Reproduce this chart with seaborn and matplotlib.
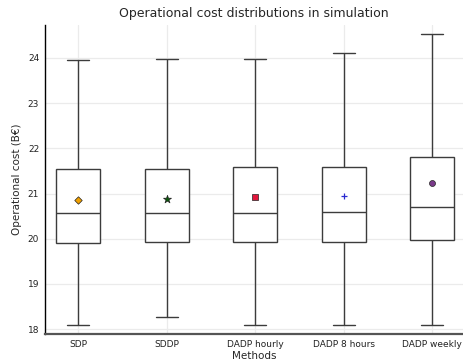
import matplotlib
matplotlib.use("Agg")
import matplotlib.pyplot as plt
import seaborn as sns
import pandas as pd

# Five-number summaries (min, Q1, median, Q3, max) of operational cost, in B€
methods = ["SDP", "SDDP", "DADP hourly", "DADP 8 hours", "DADP weekly"]
sdp = [18.09, 19.90, 20.56, 21.55, 23.96]
sddp = [18.27, 19.93, 20.57, 21.54, 23.97]
dadp_hourly = [18.10, 19.92, 20.57, 21.58, 23.98]
dadp_8h = [18.10, 19.92, 20.58, 21.59, 24.10]
dadp_weekly = [18.08, 19.96, 20.71, 21.80, 24.54]
# Mean cost of each method
means = [20.86, 20.87, 20.92, 20.94, 21.23]

summaries = [sdp, sddp, dadp_hourly, dadp_8h, dadp_weekly]
df = pd.DataFrame(
    [(m, v) for m, s in zip(methods, summaries) for v in s],
    columns=["method", "cost"],
)
df_mean = pd.DataFrame({"method": methods, "mean": means})

sns.set_theme(style="white")
plt.rcParams["font.family"] = ["DejaVu Sans"]

fig = plt.figure(figsize=(4.63, 3.62), dpi=100)
ax = fig.add_axes([0.0965, 0.0773, 0.9035, 0.8537])

sns.boxplot(
    data=df, x="method", y="cost", order=methods,
    whis=(0, 100), width=0.5, color="white", linecolor="#3c3c3c",
    linewidth=1.0, ax=ax, zorder=3, capwidths=0.25,
)

marker_styles = [
    ("D", "#f0a000", 3.8),
    ("*", "#0a5a0a", 6),
    ("s", "#e0173c", 4.3),
    ("+", "#2a2ad0", 5),
    ("o", "#7a3a8a", 4.3),
]
for (mk, col, sz), m in zip(marker_styles, methods):
    sub = df_mean[df_mean["method"] == m]
    if mk == "+":
        sns.scatterplot(data=sub, x="method", y="mean", marker=mk, color=col,
                        s=sz ** 2, linewidth=0.9, ax=ax, zorder=5)
    else:
        sns.scatterplot(data=sub, x="method", y="mean", marker=mk, color=col,
                        edgecolor="#222222", s=sz ** 2, linewidth=0.5,
                        ax=ax, zorder=5)

ax.set_xlim(-0.38, 4.347)
ax.set_ylim(17.89, 24.73)
ax.set_yticks([18, 19, 20, 21, 22, 23, 24])
ax.grid(True, color="#ebebeb", linewidth=0.9, zorder=0)
ax.set_axisbelow(True)

for side in ("top", "right"):
    ax.spines[side].set_visible(False)
ax.spines["left"].set_color("black")
ax.spines["left"].set_linewidth(1.0)
ax.spines["bottom"].set_color("#555555")
ax.spines["bottom"].set_linewidth(1.6)

ax.tick_params(axis="both", labelsize=6.5, colors="#222222", length=2.5,
               width=0.8, direction="in", pad=4)
ax.set_xlabel("Methods", fontsize=7.5, labelpad=2)
ax.set_ylabel("Operational cost (B€)", fontsize=7.5, labelpad=4)
ax.set_title("Operational cost distributions in simulation", fontsize=9, pad=6)

fig.savefig("out.png", dpi=100)
